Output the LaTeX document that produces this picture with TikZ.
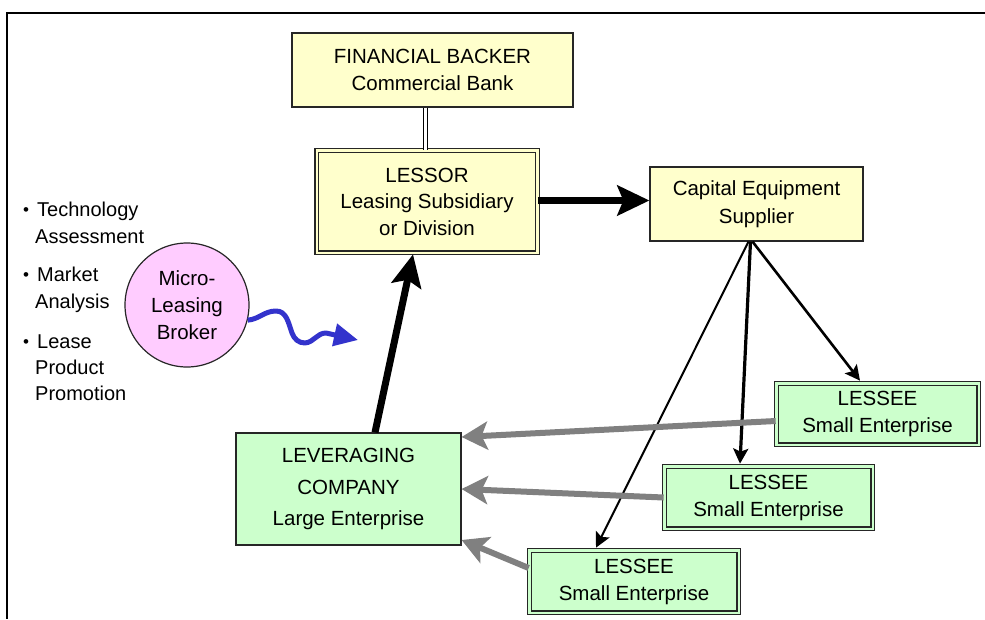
\documentclass[tikz,border=0pt]{standalone}
\usepackage{fontspec}
\setmainfont{Liberation Sans}
\usetikzlibrary{arrows.meta,calc}
\definecolor{yel}{RGB}{255,255,204}
\definecolor{grn}{RGB}{204,255,204}
\definecolor{pnk}{RGB}{255,204,255}
\definecolor{gry}{RGB}{128,128,128}
\definecolor{blu}{RGB}{51,51,204}
\newcommand{\bxf}{\fontsize{20.5}{26.5}\selectfont}
\newcommand{\mybul}{\makebox[15pt][l]{\hspace{1pt}\fontsize{17}{17}\selectfont\raisebox{0.5pt}{•}}}
\begin{document}
\begin{tikzpicture}[x=1pt,y=-1pt,
  box/.style={rectangle, draw=black!85, line width=1.2pt, align=center, inner sep=0pt, font=\bxf},
  ybox/.style={box, fill=yel},
  gbox/.style={box, fill=grn},
  dbl/.style={line width=1.2pt, double distance=2.5pt},
  thickarr/.style={line width=7pt, -{Stealth[length=32pt,width=30pt,inset=6pt]}},
  thinarr/.style={-{Stealth[length=15pt,width=15pt,inset=3pt]}},
  grayarr/.style={gry, line width=6pt, -{Stealth[length=26pt,width=28pt,inset=6pt]}},
  bultext/.style={anchor=base west, inner sep=0pt, font=\fontsize{20}{27.5}\selectfont}
]
\useasboundingbox (0,0) rectangle (985,619);
\fill[white] (0,0) rectangle (985,619);
% frame
\draw[line width=2pt] (985,13) -- (7,13) -- (7,619);

% nodes
\node[ybox, minimum width=281pt, minimum height=74pt] (banker) at (432.5,70) {FINANCIAL BACKER\\Commercial Bank};
\node[ybox, dbl, double=yel, minimum width=220.5pt, minimum height=102.5pt] (lessor) at (427,201.5) {LESSOR\\Leasing Subsidiary\\or Division};
\node[ybox, minimum width=213pt, minimum height=74pt, font=\fontsize{20.5}{28}\selectfont] (supplier) at (756.5,204) {Capital Equipment\\Supplier};
\node[gbox, minimum width=225pt, minimum height=112pt, font=\fontsize{20.5}{31.5}\selectfont] (lever) at (348.5,489) {LEVERAGING\\COMPANY\\Large Enterprise};
\node[gbox, dbl, double=grn, minimum width=202.5pt, minimum height=61.5pt, font=\fontsize{20.5}{27}\selectfont] (lessee1) at (877.5,414) {LESSEE\\Small Enterprise};
\node[gbox, dbl, double=grn, minimum width=208.5pt, minimum height=62.5pt, font=\fontsize{20.5}{27}\selectfont] (lessee2) at (768.5,497.5) {LESSEE\\Small Enterprise};
\node[gbox, dbl, double=grn, minimum width=209.5pt, minimum height=62.5pt, font=\fontsize{20.5}{27}\selectfont] (lessee3) at (634,581.5) {LESSEE\\Small Enterprise};
\node[circle, draw=black!85, line width=1.2pt, fill=pnk, minimum size=124pt, inner sep=0pt, align=center, font=\fontsize{20.5}{27}\selectfont] (broker) at (187,305) {Micro-\\Leasing\\Broker};

% bullets
\node[bultext] (b1a) at (22,216) {\mybul Technology};
\node[bultext] (b1b) at (35,243) {Assessment};
\node[bultext] (b2a) at (22,281) {\mybul Market};
\node[bultext] (b2b) at (35,308) {Analysis};
\node[bultext] (b3a) at (22,348) {\mybul Lease};
\node[bultext] (b3b) at (35,374) {Product};
\node[bultext] (b3c) at (35,400) {Promotion};

% connectors
\draw[line width=1.5pt, double distance=2.2pt, draw=black, double=white] ([xshift=-7pt]banker.south) -- ([xshift=-1.5pt]lessor.north);
\draw[thickarr] ([yshift=1pt]lessor.east) -- ([yshift=1pt]lessor.east -| supplier.west);
\draw[thickarr] ([xshift=26.5pt]lever.north) -- ([xshift=-14pt,yshift=-1pt]lessor.south);

\draw[thinarr, line width=2.6pt] ([xshift=-4pt]supplier.south) -- ([xshift=-17.5pt,yshift=2pt]lessee1.north);
\draw[thinarr, line width=3.2pt] ([xshift=-6pt]supplier.south) -- ([xshift=-28.5pt,yshift=2pt]lessee2.north);
\draw[thinarr, line width=2pt] ([xshift=-8pt]supplier.south) -- ([xshift=-38pt,yshift=2pt]lessee3.north);

\draw[grayarr] ([yshift=-7pt]lessee1.west) -- ([yshift=52pt]lever.east);
\draw[grayarr] (lessee2.west) -- (lever.east);
\draw[grayarr] ([yshift=13.5pt]lessee3.west) -- ([yshift=-51pt]lever.east);

% wavy broker arrow
\coordinate (wavetip) at (358,340);
\draw[blu, line width=5pt, line join=round, -{Triangle[length=24pt,width=22pt]}]
  (broker.-14) to[out=5,in=180] (276,311) to[out=0,in=110] (292,333)
  to[out=-70,in=180] (305,343) to[out=5,in=180] (326,333) -- (wavetip);
\end{tikzpicture}
\end{document}
